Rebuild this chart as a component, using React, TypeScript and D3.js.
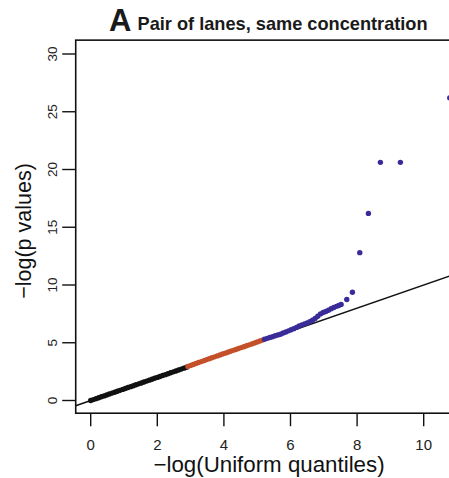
import React from "react";
import * as d3 from "d3";

// ---- data ----
const xTicks = [0, 2, 4, 6, 8, 10];
const yTicks = [0, 5, 10, 15, 20, 25, 30];
const xLim = [-0.45, 11.7];
const yLim = [-1.1, 31.2];
const refLine = [-0.45, 11.7];

const blackX = [0, 0.08, 0.16, 0.24, 0.32, 0.4, 0.48, 0.56, 0.64, 0.72, 0.8, 0.88, 0.96, 1.04, 1.12, 1.2, 1.28, 1.36, 1.44, 1.52, 1.6, 1.68, 1.76, 1.84, 1.92, 2.0, 2.08, 2.16, 2.24, 2.32, 2.4, 2.48, 2.56, 2.64, 2.72, 2.8, 2.88];
const blackY = [0, 0.08, 0.16, 0.24, 0.32, 0.4, 0.48, 0.56, 0.64, 0.72, 0.8, 0.88, 0.96, 1.04, 1.12, 1.2, 1.28, 1.36, 1.44, 1.52, 1.6, 1.68, 1.76, 1.84, 1.92, 2.0, 2.08, 2.16, 2.24, 2.32, 2.4, 2.48, 2.56, 2.64, 2.72, 2.8, 2.88];

const redX = [2.92, 3.0, 3.08, 3.16, 3.24, 3.32, 3.4, 3.48, 3.56, 3.64, 3.72, 3.8, 3.88, 3.96, 4.04, 4.12, 4.2, 4.28, 4.36, 4.44, 4.52, 4.6, 4.68, 4.76, 4.84, 4.92, 5.0, 5.08, 5.16];
const redY = [2.95, 3.04, 3.12, 3.2, 3.29, 3.37, 3.45, 3.54, 3.62, 3.7, 3.78, 3.86, 3.94, 4.02, 4.1, 4.18, 4.26, 4.34, 4.42, 4.5, 4.58, 4.66, 4.74, 4.82, 4.9, 4.98, 5.07, 5.15, 5.23];

const blueX = [5.22, 5.3, 5.38, 5.46, 5.54, 5.62, 5.7, 5.78, 5.86, 5.94, 6.02, 6.1, 6.18, 6.26, 6.34, 6.42, 6.5, 6.58, 6.66, 6.74, 6.82, 6.9, 6.98, 7.06, 7.14, 7.22, 7.3, 7.38, 7.45, 7.52, 7.69, 7.86, 8.08, 8.34, 8.7, 9.3, 10.78];
const blueY = [5.3, 5.38, 5.45, 5.52, 5.6, 5.67, 5.74, 5.84, 5.93, 6.03, 6.12, 6.22, 6.33, 6.45, 6.55, 6.63, 6.72, 6.82, 6.95, 7.1, 7.3, 7.5, 7.62, 7.7, 7.82, 7.95, 8.05, 8.15, 8.23, 8.32, 8.75, 9.37, 12.8, 16.2, 20.62, 20.62, 26.2];

const COLORS = { black: "#111111", red: "#c4502a", blue: "#3a2c98" };
const FONT = "'Liberation Sans', Arial, Helvetica, sans-serif";

export default function App() {
  const x = d3.scaleLinear().domain([0, 10]).range([90.7, 423.7]);
  const y = d3.scaleLinear().domain([0, 30]).range([400.5, 54]);

  const fx0 = x(xLim[0]);
  const fx1 = x(xLim[1]);
  const fy0 = y(yLim[0]);
  const fy1 = y(yLim[1]);

  const line = d3
    .line<number>()
    .x((d) => x(d))
    .y((d) => y(d));

  const series = [
    { xs: blackX, ys: blackY, color: COLORS.black },
    { xs: redX, ys: redY, color: COLORS.red },
    { xs: blueX, ys: blueY, color: COLORS.blue },
  ];

  return (
    <svg
      width={449}
      height={478}
      style={{ position: "absolute", left: 0, top: 0, background: "#fff" }}
      fontFamily={FONT}
    >
      <defs>
        <clipPath id="plotClip">
          <rect x={fx0} y={fy1} width={fx1 - fx0} height={fy0 - fy1} />
        </clipPath>
      </defs>

      {/* title */}
      <text x={109} y={31} fontSize={31} fontWeight="bold" fill="#1a1a1a">
        A
      </text>
      <text x={137.5} y={30} fontSize={18.2} fontWeight="bold" fill="#1a1a1a">
        Pair of lanes, same concentration
      </text>

      {/* reference line + points */}
      <g clipPath="url(#plotClip)">
        <path d={line(refLine) || ""} stroke="#111" strokeWidth={1.5} fill="none" />
        {series.map((s, si) =>
          s.xs.map((xv, i) => (
            <circle key={`${si}-${i}`} cx={x(xv)} cy={y(s.ys[i])} r={2.7} fill={s.color} />
          ))
        )}
      </g>

      {/* frame */}
      <rect
        x={fx0}
        y={fy1}
        width={fx1 - fx0}
        height={fy0 - fy1}
        fill="none"
        stroke="#111"
        strokeWidth={1.6}
      />

      {/* x axis */}
      {xTicks.map((t) => (
        <g key={`xt${t}`}>
          <line x1={x(t)} x2={x(t)} y1={fy0} y2={fy0 + 13} stroke="#111" strokeWidth={1.4} />
          <text x={x(t)} y={450} fontSize={15} textAnchor="middle" fill="#222">
            {t}
          </text>
        </g>
      ))}

      {/* y axis */}
      {yTicks.map((t) => (
        <g key={`yt${t}`}>
          <line x1={fx0 - 13.5} x2={fx0} y1={y(t)} y2={y(t)} stroke="#111" strokeWidth={1.4} />
          <text
            transform={`translate(56.7,${y(t)}) rotate(-90)`}
            fontSize={13.5}
            textAnchor="middle"
            fill="#222"
          >
            {t}
          </text>
        </g>
      ))}

      {/* axis titles */}
      <text x={269} y={472} fontSize={22.3} textAnchor="middle" fill="#111">
        −log(Uniform quantiles)
      </text>
      <text transform="translate(31,231) rotate(-90)" fontSize={21.5} textAnchor="middle" fill="#111">
        −log(p values)
      </text>
    </svg>
  );
}
